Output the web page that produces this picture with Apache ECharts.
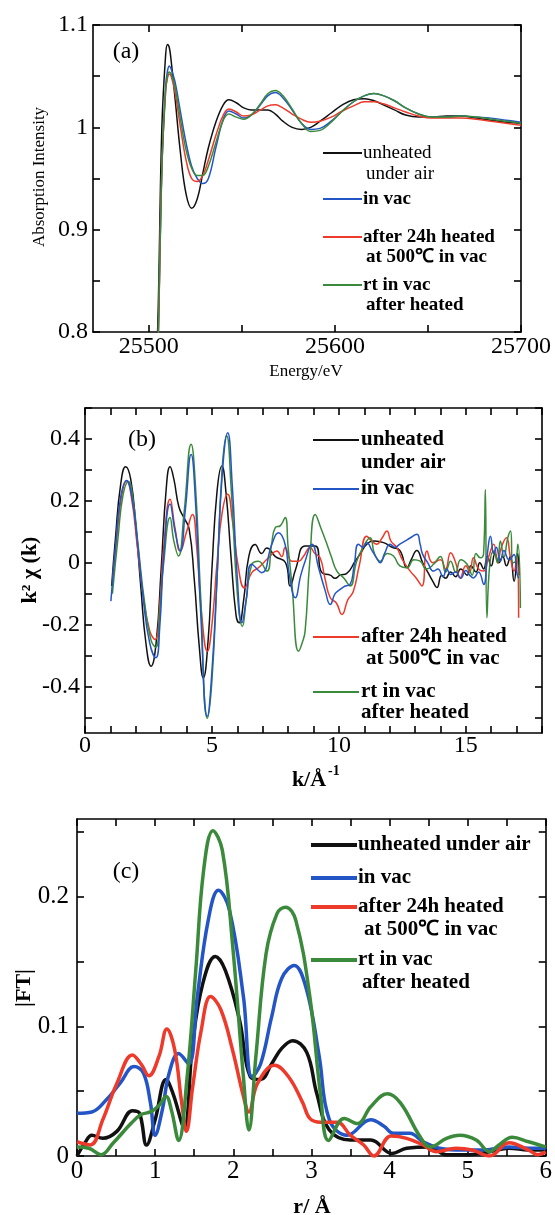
<!DOCTYPE html>
<html>
<head>
<meta charset="utf-8">
<script src="https://cdn.jsdelivr.net/npm/echarts@6/dist/echarts.min.js"></script>
<style>
  html, body { margin: 0; padding: 0; background: #fff; }
  #main { width: 555px; height: 1215px; }
</style>
</head>
<body>
<div id="main"></div>
<script>
var SERIF = '"Liberation Serif", "Times New Roman", serif';
var colors = { black: '#111111', blue: '#2455c6', red: '#ee3a2a', green: '#3b8a3b' };

// ---- (a) XANES ----
var energy = [25503, 25505, 25507, 25509, 25510, 25511, 25512, 25514, 25517, 25520, 25523, 25526, 25529, 25532, 25536, 25540, 25543, 25547, 25551, 25555, 25560, 25564, 25568, 25572, 25577, 25582, 25587, 25592, 25598, 25604, 25610, 25616, 25621, 25626, 25632, 25638, 25645, 25652, 25660, 25668, 25676, 25684, 25692, 25700];
var xanesUnheated = [0.70, 0.82, 1.00, 1.07, 1.081, 1.078, 1.065, 1.03, 0.975, 0.935, 0.921, 0.93, 0.955, 0.98, 1.005, 1.022, 1.027, 1.024, 1.019, 1.017, 1.017, 1.017, 1.013, 1.006, 1.000, 0.998, 1.000, 1.006, 1.014, 1.022, 1.027, 1.028, 1.026, 1.022, 1.017, 1.012, 1.010, 1.010, 1.011, 1.011, 1.009, 1.007, 1.005, 1.004];
var xanesVac = [0.68, 0.79, 0.96, 1.04, 1.055, 1.060, 1.057, 1.045, 1.015, 0.985, 0.962, 0.950, 0.945, 0.950, 0.980, 1.008, 1.016, 1.013, 1.009, 1.012, 1.022, 1.031, 1.034, 1.029, 1.017, 1.004, 0.998, 0.999, 1.006, 1.016, 1.025, 1.031, 1.033, 1.031, 1.026, 1.019, 1.013, 1.010, 1.010, 1.011, 1.010, 1.009, 1.007, 1.005];
var xanesHeated = [0.68, 0.79, 0.96, 1.035, 1.048, 1.052, 1.050, 1.035, 1.000, 0.968, 0.950, 0.947, 0.953, 0.968, 0.992, 1.012, 1.018, 1.015, 1.011, 1.012, 1.017, 1.021, 1.022, 1.019, 1.013, 1.008, 1.005, 1.006, 1.010, 1.016, 1.021, 1.025, 1.025, 1.023, 1.019, 1.015, 1.011, 1.009, 1.009, 1.009, 1.008, 1.006, 1.004, 1.002];
var xanesRt = [0.68, 0.79, 0.96, 1.035, 1.050, 1.054, 1.052, 1.040, 1.008, 0.978, 0.960, 0.953, 0.953, 0.962, 0.985, 1.007, 1.013, 1.010, 1.008, 1.012, 1.023, 1.033, 1.036, 1.031, 1.018, 1.004, 0.996, 0.997, 1.005, 1.016, 1.025, 1.031, 1.033, 1.031, 1.026, 1.019, 1.013, 1.010, 1.010, 1.011, 1.010, 1.008, 1.006, 1.004];

// ---- (b) k^2 chi(k), [k, value] ----
var exafsUnheated = [[1.05,-0.075],[1.2,0.08],[1.4,0.25],[1.6,0.31],[1.8,0.27],[2.0,0.12],[2.2,-0.08],[2.4,-0.26],[2.6,-0.334],[2.8,-0.26],[3.0,-0.02],[3.2,0.24],[3.35,0.31],[3.5,0.27],[3.7,0.18],[3.9,0.145],[4.1,0.11],[4.3,-0.05],[4.5,-0.27],[4.66,-0.372],[4.85,-0.25],[5.0,-0.02],[5.2,0.23],[5.39,0.313],[5.55,0.23],[5.75,0.02],[5.95,-0.17],[6.07,-0.194],[6.25,-0.12],[6.45,0.02],[6.7,0.059],[6.96,0.03],[7.16,0.048],[7.5,0.02],[7.9,0.0],[8.08,-0.075],[8.3,-0.02],[8.67,0.054],[9.07,0.054],[9.33,-0.032],[9.66,-0.04],[9.85,-0.05],[10.05,-0.04],[10.3,-0.035],[10.64,0.005],[10.85,0.03],[11.1,0.06],[11.4,0.07],[11.76,0.065],[12.1,0.05],[12.4,0.04],[12.68,-0.016],[12.85,0.01],[13.07,0.04],[13.3,0.0],[13.5,-0.03],[13.7,-0.06],[13.86,-0.08],[14.05,-0.04],[14.2,-0.05],[14.4,-0.03],[14.6,-0.045],[14.8,-0.02],[15.05,-0.04],[15.2,-0.01],[15.4,-0.03],[15.55,0.0],[15.7,-0.02],[15.85,0.02],[16.0,-0.01],[16.15,0.03],[16.3,0.0],[16.45,0.02],[16.6,-0.01],[16.75,0.02],[16.9,-0.06],[17.04,0.03],[17.1,-0.04]];
var exafsVac = [[1.02,-0.124],[1.2,0.05],[1.4,0.21],[1.64,0.266],[1.85,0.21],[2.05,0.08],[2.3,-0.12],[2.55,-0.26],[2.79,-0.307],[2.95,-0.2],[3.1,0.02],[3.35,0.19],[3.55,0.1],[3.75,0.038],[3.95,0.17],[4.18,0.35],[4.35,0.2],[4.55,-0.15],[4.82,-0.496],[5.0,-0.35],[5.2,-0.05],[5.4,0.28],[5.62,0.42],[5.8,0.25],[6.0,-0.05],[6.18,-0.194],[6.35,-0.12],[6.57,-0.005],[6.96,-0.032],[7.36,0.06],[7.62,0.097],[7.88,0.06],[8.05,-0.04],[8.28,-0.113],[8.5,-0.04],[8.67,0.005],[8.94,0.06],[9.2,-0.016],[9.46,-0.09],[9.66,-0.135],[9.85,-0.1],[10.05,-0.086],[10.25,-0.075],[10.44,-0.07],[10.6,-0.01],[10.77,0.06],[10.95,0.05],[11.1,0.065],[11.3,0.04],[11.45,0.02],[11.63,0.0],[11.8,0.03],[12.02,0.06],[12.2,0.05],[12.4,0.06],[12.6,0.07],[12.8,0.08],[13.07,0.092],[13.2,0.06],[13.3,0.027],[13.5,0.0],[13.73,-0.027],[13.9,-0.02],[14.1,-0.045],[14.25,-0.02],[14.4,-0.038],[14.6,-0.03],[14.8,-0.05],[15.0,-0.025],[15.15,-0.04],[15.3,-0.049],[15.5,-0.03],[15.7,-0.07],[15.85,0.03],[15.97,0.086],[16.1,0.03],[16.2,0.05],[16.36,0.005],[16.5,0.04],[16.7,0.01],[16.9,0.027],[17.0,-0.03],[17.08,-0.05]];
var exafsHeated = [[1.08,-0.06],[1.25,0.08],[1.45,0.22],[1.64,0.264],[1.85,0.2],[2.05,0.06],[2.3,-0.11],[2.55,-0.22],[2.76,-0.248],[2.95,-0.13],[3.1,0.05],[3.35,0.205],[3.55,0.11],[3.75,0.038],[4.0,0.1],[4.23,0.156],[4.4,0.05],[4.6,-0.17],[4.82,-0.286],[5.0,-0.2],[5.2,0.0],[5.4,0.16],[5.62,0.221],[5.8,0.14],[6.05,-0.02],[6.28,-0.081],[6.57,-0.032],[6.83,-0.016],[7.23,0.016],[7.56,0.038],[7.75,0.02],[7.88,0.049],[8.15,0.005],[8.41,0.005],[8.6,0.02],[8.87,0.049],[9.05,0.03],[9.26,0.016],[9.45,-0.05],[9.66,-0.113],[9.9,-0.13],[10.12,-0.167],[10.35,-0.12],[10.57,-0.092],[10.8,-0.01],[11.1,0.086],[11.3,0.07],[11.49,0.06],[11.7,0.08],[11.89,0.103],[12.05,0.07],[12.28,0.049],[12.5,0.01],[12.81,-0.027],[13.05,-0.05],[13.27,-0.075],[13.47,0.038],[13.7,0.0],[14.0,0.01],[14.2,-0.02],[14.4,0.032],[14.6,0.0],[14.78,-0.049],[15.0,-0.01],[15.15,-0.03],[15.3,0.016],[15.5,-0.02],[15.7,-0.027],[15.9,0.02],[16.1,0.06],[16.25,0.0],[16.4,0.05],[16.6,0.081],[16.75,0.02],[16.9,-0.027],[17.0,0.02],[17.08,-0.178]];
var exafsRt = [[1.08,-0.1],[1.3,0.08],[1.5,0.22],[1.71,0.262],[1.9,0.2],[2.1,0.05],[2.35,-0.13],[2.6,-0.25],[2.79,-0.273],[2.95,-0.15],[3.1,0.0],[3.35,0.146],[3.5,0.07],[3.68,0.022],[3.9,0.16],[4.18,0.383],[4.35,0.25],[4.55,-0.1],[4.82,-0.502],[5.0,-0.38],[5.2,-0.05],[5.4,0.3],[5.58,0.41],[5.75,0.25],[6.0,-0.1],[6.2,-0.205],[6.35,-0.12],[6.57,-0.005],[6.83,0.005],[7.16,-0.027],[7.35,0.06],[7.49,0.113],[7.7,0.12],[7.88,0.146],[8.0,0.05],[8.15,-0.07],[8.41,-0.286],[8.55,-0.26],[8.67,-0.22],[8.85,0.0],[9.07,0.156],[9.3,0.11],[9.53,0.06],[9.7,0.02],[9.92,-0.027],[10.2,-0.05],[10.44,-0.075],[10.7,0.005],[10.95,0.05],[11.23,0.081],[11.4,0.03],[11.63,0.005],[11.9,0.03],[12.15,0.022],[12.4,-0.01],[12.68,-0.016],[12.95,0.01],[13.2,0.005],[13.45,-0.02],[13.73,-0.005],[14.0,0.02],[14.2,-0.03],[14.4,0.005],[14.6,-0.03],[14.8,0.01],[15.05,-0.005],[15.25,-0.04],[15.4,0.03],[15.57,0.016],[15.7,0.03],[15.77,0.237],[15.83,-0.178],[15.95,0.0],[16.1,0.038],[16.25,0.0],[16.36,0.07],[16.5,0.02],[16.65,0.08],[16.76,0.103],[16.85,0.0],[16.96,0.005],[17.05,0.06],[17.15,-0.146]];

// ---- (c) |FT|, [r, value] ----
var ftUnheated = [[0,0.0],[0.1,0.01],[0.19,0.016],[0.33,0.0136],[0.51,0.019],[0.71,0.035],[0.8,0.033],[0.89,0.0085],[1.0,0.028],[1.14,0.059],[1.23,0.048],[1.37,0.022],[1.48,0.087],[1.61,0.133],[1.77,0.154],[1.9,0.143],[2.08,0.105],[2.22,0.061],[2.35,0.059],[2.49,0.071],[2.62,0.083],[2.76,0.089],[2.94,0.08],[3.07,0.048],[3.23,0.02],[3.5,0.0123],[3.76,0.0123],[4.03,0.002],[4.22,0.006],[4.52,0.007],[4.73,0.001],[5.02,0.001],[5.28,0.0033],[5.53,0.006],[5.78,0.0046],[6.0,0.0046]];
var ftVac = [[0,0.033],[0.19,0.034],[0.37,0.043],[0.55,0.056],[0.73,0.069],[0.85,0.064],[0.94,0.041],[1.0,0.016],[1.09,0.035],[1.18,0.064],[1.3,0.079],[1.43,0.071],[1.54,0.123],[1.68,0.182],[1.81,0.205],[1.95,0.19],[2.13,0.123],[2.24,0.061],[2.35,0.071],[2.49,0.107],[2.62,0.137],[2.78,0.147],[2.94,0.128],[3.1,0.077],[3.23,0.028],[3.46,0.016],[3.76,0.028],[3.93,0.023],[4.05,0.0175],[4.26,0.0175],[4.43,0.011],[4.64,0.006],[4.94,0.0046],[5.19,0.0046],[5.53,0.007],[5.78,0.006],[6.0,0.006]];
var ftHeated = [[0,0.011],[0.17,0.0085],[0.33,0.028],[0.51,0.056],[0.71,0.078],[0.82,0.071],[0.92,0.062],[1.05,0.077],[1.15,0.098],[1.25,0.082],[1.34,0.041],[1.4,0.019],[1.48,0.053],[1.59,0.097],[1.71,0.123],[1.84,0.113],[1.99,0.082],[2.13,0.046],[2.2,0.034],[2.31,0.056],[2.53,0.07],[2.71,0.061],[2.89,0.041],[2.98,0.029],[3.12,0.026],[3.33,0.026],[3.5,0.016],[3.67,0.0085],[3.8,0.0],[4.02,0.0154],[4.22,0.0136],[4.43,0.0085],[4.6,0.0033],[4.85,0.006],[5.06,0.0046],[5.28,0.0],[5.53,0.0103],[5.78,0.0046],[5.9,0.001],[6.0,0.0033]];
var ftRt = [[0,0.007],[0.15,0.006],[0.31,0.001],[0.46,0.0098],[0.69,0.025],[0.82,0.032],[0.94,0.034],[1.05,0.039],[1.14,0.046],[1.21,0.035],[1.3,0.012],[1.41,0.061],[1.52,0.143],[1.62,0.22],[1.74,0.251],[1.86,0.236],[1.99,0.164],[2.13,0.061],[2.2,0.02],[2.29,0.077],[2.42,0.156],[2.56,0.187],[2.67,0.192],[2.8,0.182],[2.98,0.123],[3.12,0.046],[3.22,0.012],[3.42,0.029],[3.59,0.025],[3.76,0.038],[3.97,0.048],[4.14,0.041],[4.39,0.015],[4.52,0.007],[4.73,0.0136],[4.9,0.016],[5.11,0.0123],[5.28,0.0033],[5.4,0.0085],[5.57,0.0144],[5.78,0.011],[6.0,0.007]];

// tick / label positions
var ticksA_x = [25500, 25550, 25600, 25650, 25700];
var labelsA_x = [25500, 25600, 25700];
var ticksA_y = [0.8, 0.85, 0.9, 0.95, 1.0, 1.05, 1.1];
var labelsA_y = [0.8, 0.9, 1, 1.1];
var ticksB_x = [0, 1, 2, 3, 4, 5, 6, 7, 8, 9, 10, 11, 12, 13, 14, 15, 16, 17, 18];
var labelsB_x = [0, 5, 10, 15];
var ticksB_y = [-0.5, -0.4, -0.3, -0.2, -0.1, 0, 0.1, 0.2, 0.3, 0.4, 0.5];
var labelsB_y = [-0.4, -0.2, 0, 0.2, 0.4];
var ticksC_x = [0, 0.5, 1, 1.5, 2, 2.5, 3, 3.5, 4, 4.5, 5, 5.5, 6];
var labelsC_x = [0, 1, 2, 3, 4, 5, 6];
var ticksC_y = [0, 0.05, 0.1, 0.15, 0.2, 0.25];
var labelsC_y = [0, 0.1, 0.2];

function zip(xs, ys) {
  return xs.map(function (x, i) { return [x, ys[i]]; });
}

function axis(pos, grid, min, max, ticks, labels, fs, margin) {
  var a = {
    type: 'value', gridIndex: grid, position: pos, min: min, max: max,
    axisLine: { show: true, onZero: false, lineStyle: { color: '#000', width: 1.6 } },
    axisTick: { show: true, inside: true, length: 7, customValues: ticks, lineStyle: { color: '#000', width: 1.6 } },
    axisLabel: {
      show: !!labels, fontFamily: SERIF, fontSize: fs, color: '#000', margin: margin,
      formatter: function (v) { return String(+v.toFixed(3)); }
    },
    splitLine: { show: false }
  };
  if (labels) a.axisLabel.customValues = labels;
  return a;
}

function line(name, data, color, xi, yi, width, smooth) {
  return {
    name: name, type: 'line', data: data, xAxisIndex: xi, yAxisIndex: yi,
    showSymbol: false, smooth: smooth, silent: true,
    lineStyle: { color: color, width: width }
  };
}

function txt(x, y, text, font, opts) {
  var o = { type: 'text', x: x, y: y, silent: true,
    style: { text: text, font: font, fill: '#000', textVerticalAlign: 'middle', textAlign: 'left' } };
  if (opts) {
    if (opts.align) o.style.textAlign = opts.align;
    if (opts.rotate) o.rotation = opts.rotate;
  }
  return o;
}

function seg(x1, x2, y, color, w) {
  return { type: 'line', silent: true, shape: { x1: x1, y1: y, x2: x2, y2: y }, style: { stroke: color, lineWidth: w } };
}

var reg = function (s) { return s + 'px ' + SERIF; };
var bold = function (s) { return 'bold ' + s + 'px ' + SERIF; };

var myChart = echarts.init(document.getElementById('main'));
var option = {
  backgroundColor: '#fff',
  animation: false,
  grid: [
    { left: 93, top: 25, width: 428, height: 307 },
    { left: 85, top: 408, width: 457, height: 325 },
    { left: 77, top: 819, width: 474, height: 337 }
  ],
  xAxis: [
    axis('bottom', 0, 25470, 25700, ticksA_x, labelsA_x, 24, 3),
    axis('top', 0, 25470, 25700, ticksA_x, null, 24, 3),
    axis('bottom', 1, 0, 18, ticksB_x, labelsB_x, 24, 1),
    axis('top', 1, 0, 18, ticksB_x, null, 24, 1),
    axis('bottom', 2, 0, 6, ticksC_x, labelsC_x, 25, 3),
    axis('top', 2, 0, 6, ticksC_x, null, 25, 3)
  ],
  yAxis: [
    axis('left', 0, 0.8, 1.1, ticksA_y, labelsA_y, 24, 5),
    axis('right', 0, 0.8, 1.1, ticksA_y, null, 24, 5),
    axis('left', 1, -0.55, 0.5, ticksB_y, labelsB_y, 24, 5),
    axis('right', 1, -0.55, 0.5, ticksB_y, null, 24, 5),
    axis('left', 2, 0, 0.26, ticksC_y, labelsC_y, 25, 8),
    axis('right', 2, 0, 0.26, ticksC_y, null, 25, 8)
  ],
  series: [
    line('unheated under air', zip(energy, xanesUnheated), colors.black, 0, 0, 1.5, 0.4),
    line('in vac', zip(energy, xanesVac), colors.blue, 0, 0, 1.5, 0.4),
    line('after 24h heated at 500℃ in vac', zip(energy, xanesHeated), colors.red, 0, 0, 1.5, 0.4),
    line('rt in vac after heated', zip(energy, xanesRt), colors.green, 0, 0, 1.5, 0.4),

    line('unheated under air', exafsUnheated, colors.black, 2, 2, 1.5, 0.5),
    line('after 24h heated at 500℃ in vac', exafsHeated, colors.red, 2, 2, 1.5, 0.5),
    line('rt in vac after heated', exafsRt, colors.green, 2, 2, 1.5, 0.5),
    line('in vac', exafsVac, colors.blue, 2, 2, 1.5, 0.5),

    line('unheated under air', ftUnheated, colors.black, 4, 4, 3.5, 0.4),
    line('in vac', ftVac, colors.blue, 4, 4, 3.5, 0.4),
    line('after 24h heated at 500℃ in vac', ftHeated, colors.red, 4, 4, 3.5, 0.4),
    line('rt in vac after heated', ftRt, colors.green, 4, 4, 3.5, 0.4)
  ],
  graphic: [
    // panel (a)
    txt(126, 52, '(a)', reg(24), { align: 'center' }),
    txt(40, 177, 'Absorption Intensity', reg(17), { align: 'center', rotate: Math.PI / 2 }),
    txt(306, 372, 'Energy/eV', reg(17), { align: 'center' }),
    seg(323, 362, 153, colors.black, 2),
    txt(363, 153, 'unheated', reg(19)),
    txt(366, 174, 'under air', reg(19)),
    seg(323, 362, 199, colors.blue, 2),
    txt(363, 199, 'in vac', bold(19)),
    seg(323, 362, 237, colors.red, 2),
    txt(363, 237, 'after 24h heated', bold(19)),
    txt(366, 257, 'at 500℃ in vac', bold(19)),
    seg(323, 362, 285, colors.green, 2),
    txt(363, 285, 'rt in vac', bold(19)),
    txt(366, 305, 'after heated', bold(19)),

    // panel (b)
    txt(142, 440, '(b)', reg(24), { align: 'center' }),
    txt(30, 570, 'k² χ (k)', bold(22), { align: 'center', rotate: Math.PI / 2 }),
    txt(309, 780, 'k/Å', bold(22), { align: 'center' }),
    txt(328, 771, '-1', bold(14)),
    seg(313, 359, 440, colors.black, 2),
    txt(361, 440, 'unheated', bold(21)),
    txt(361, 463, 'under air', bold(21)),
    seg(313, 359, 489, colors.blue, 2),
    txt(361, 489, 'in vac', bold(21)),
    seg(313, 359, 637, colors.red, 2),
    txt(361, 637, 'after 24h heated', bold(21)),
    txt(366, 659, 'at 500℃ in vac', bold(21)),
    seg(313, 359, 692, colors.green, 2),
    txt(361, 692, 'rt in vac', bold(21)),
    txt(361, 713, 'after heated', bold(21)),

    // panel (c)
    txt(126, 872, '(c)', reg(24), { align: 'center' }),
    txt(24, 988, '|FT|', bold(22), { align: 'center', rotate: Math.PI / 2 }),
    txt(312, 1207, 'r/ Å', bold(22), { align: 'center' }),
    seg(311, 357, 845, colors.black, 4),
    txt(358, 845, 'unheated under air', bold(21)),
    seg(311, 357, 878, colors.blue, 4),
    txt(358, 878, 'in vac', bold(21)),
    seg(311, 357, 907, colors.red, 4),
    txt(358, 907, 'after 24h heated', bold(21)),
    txt(364, 930, 'at 500℃ in vac', bold(21)),
    seg(311, 357, 960, colors.green, 4),
    txt(358, 960, 'rt in vac', bold(21)),
    txt(362, 983, 'after heated', bold(21))
  ]
};

option && myChart.setOption(option);
</script>
</body>
</html>
